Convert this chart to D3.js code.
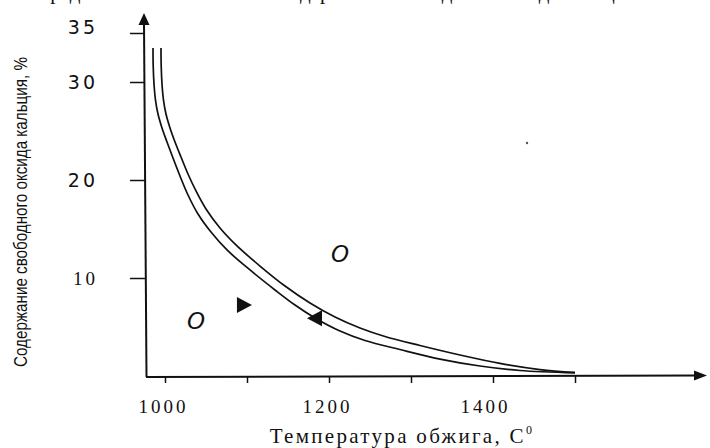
<!DOCTYPE html>
<html><head><meta charset="utf-8">
<script src="https://cdn.jsdelivr.net/npm/d3@7"></script>
<style>
html,body{margin:0;padding:0;background:#fff;}
svg{display:block;}
</style></head>
<body>
<svg id="chart" width="710" height="448"></svg>
<script>
// ---- data ----
const yTicks = [10, 20, 30, 35];
const xTicks = [1000, 1100, 1200, 1300, 1400, 1500];
const xTickLabels = ["1000", "", "1200", "", "1400", ""];
const lowerCurveT   = [985.37, 985.61, 986.59, 988.41, 991.46, 996.34, 1002.44, 1009.76, 1018.29, 1028.05, 1040.24, 1056.10, 1075.61, 1103.66, 1134.15, 1158.54, 1182.93, 1213.41, 1243.90, 1286.59, 1335.37, 1384.15, 1432.93, 1500];
const lowerCurveVal = [33.47, 31.63, 29.80, 28.16, 26.73, 25.31, 23.88, 22.24, 20.41, 18.47, 16.53, 14.69, 12.86, 10.82, 8.78, 7.24, 5.92, 4.59, 3.62, 2.70, 1.73, 1.02, 0.56, 0.31];
const upperCurveT   = [995.12, 995.37, 996.34, 998.17, 1001.22, 1006.10, 1012.20, 1019.51, 1028.05, 1037.80, 1050.00, 1067.07, 1087.80, 1115.85, 1146.34, 1176.83, 1207.32, 1237.80, 1268.29, 1310.98, 1359.76, 1408.54, 1457.32, 1500];
const upperCurveVal = [33.47, 31.63, 29.80, 28.16, 26.73, 25.31, 23.88, 22.35, 20.61, 18.88, 17.04, 15.10, 13.27, 11.22, 9.18, 7.45, 6.02, 4.90, 4.03, 3.11, 2.14, 1.28, 0.66, 0.36];
const circleLabelsT = [1037.8, 1213.4];
const circleLabelsV = [5.7, 12.55];
const triRightT = [1096.3], triRightV = [7.24];
const triLeftT = [1182.9], triLeftV = [5.9];
const xTitle = "Температура обжига, C";
const yTitle = "Содержание свободного оксида кальция, %";
const topText = "Представлена зависимость содержания свободного оксида кальция от температуры обжига";

const svg = d3.select("#chart");
const x = d3.scaleLinear().domain([1000, 1500]).range([165, 575]);
const y = d3.scaleLinear().domain([0, 35]).range([376, 33]);
const ink = "#111";

// clipped text line at the very top (only descenders visible, as in the reference)
svg.append("text").attr("x", 35).attr("y", -1)
  .attr("font-family", "Liberation Serif").attr("font-size", 21)
  .attr("fill", ink).text(topText);

// Y axis
const yAxis = d3.axisLeft(y).tickValues(yTicks).tickSize(15).tickFormat(d => d);
const gy = svg.append("g").attr("transform", "translate(145,0)").call(yAxis);
gy.select(".domain").remove();
gy.selectAll(".tick line").attr("stroke", ink).attr("stroke-width", 1.5);
gy.selectAll(".tick text").attr("x", -47)
  .attr("font-size", 19).attr("letter-spacing", 3).attr("fill", ink)
  .attr("font-family", d => d === 10 ? "Liberation Serif" : "DejaVu Sans")
  .attr("dy", d => d === 35 ? "0.05em" : "0.32em");
svg.append("line").attr("x1", 144).attr("x2", 146.5).attr("y1", 24).attr("y2", 377)
  .attr("stroke", ink).attr("stroke-width", 2);
svg.append("path").attr("d", "M144,13 L138.5,25 L149.5,25 Z").attr("fill", ink);

// X axis
const xAxis = d3.axisBottom(x).tickValues(xTicks).tickSize(7)
  .tickFormat((d, i) => xTickLabels[i]);
const gx = svg.append("g").attr("transform", "translate(0,376)").call(xAxis);
gx.select(".domain").remove();
gx.selectAll(".tick line").attr("stroke", ink).attr("stroke-width", 1.5);
gx.selectAll(".tick text").attr("y", 24).attr("font-family", "Liberation Serif")
  .attr("font-size", 19).attr("letter-spacing", 3).attr("fill", ink)
  .attr("dx", d => d === 1400 ? -8 : -2);
svg.append("line").attr("x1", 146).attr("x2", 696).attr("y1", 377).attr("y2", 375.5)
  .attr("stroke", ink).attr("stroke-width", 2);
svg.append("path").attr("d", "M707,375.5 L694,370.5 L694,380.5 Z").attr("fill", ink);

// titles
const xt = svg.append("text").attr("x", 402).attr("y", 443).attr("text-anchor", "middle")
  .attr("font-family", "Liberation Serif").attr("font-size", 21).attr("letter-spacing", 2.3)
  .attr("fill", ink).text(xTitle);
xt.append("tspan").attr("font-size", 12).attr("dy", -9).text("0");
svg.append("text").attr("transform", "translate(27,212) rotate(-90)")
  .attr("text-anchor", "middle").attr("font-family", "Liberation Sans Narrow, Liberation Sans")
  .attr("font-size", 18).attr("textLength", 310).attr("lengthAdjust", "spacingAndGlyphs")
  .attr("fill", ink).text(yTitle);

// curves (double line)
const lineGen = d3.line().x(d => x(d[0])).y(d => y(d[1])).curve(d3.curveCatmullRom.alpha(0.5));
[[lowerCurveT, lowerCurveVal], [upperCurveT, upperCurveVal]].forEach(([ts, vs]) => {
  const pts = ts.map((t, i) => [t, vs[i]]);
  svg.append("path").attr("d", lineGen(pts)).attr("fill", "none")
    .attr("stroke", ink).attr("stroke-width", 1.7);
});

// "O" markers
circleLabelsT.forEach((t, i) => {
  svg.append("text").attr("x", x(t)).attr("y", y(circleLabelsV[i]) + 9)
    .attr("text-anchor", "middle").attr("font-family", "DejaVu Sans")
    .attr("font-style", "italic").attr("font-weight", 200).attr("font-size", 23)
    .attr("fill", ink).text("O");
});
// triangles
triRightT.forEach((t, i) => {
  const cx = x(t), cy = y(triRightV[i]);
  svg.append("path").attr("d", `M${cx-7},${cy-8} L${cx+8},${cy} L${cx-7},${cy+8} Z`).attr("fill", ink);
});
triLeftT.forEach((t, i) => {
  const cx = x(t), cy = y(triLeftV[i]);
  svg.append("path").attr("d", `M${cx+7},${cy-8} L${cx-8},${cy} L${cx+7},${cy+8} Z`).attr("fill", ink);
});
// speck
svg.append("circle").attr("cx", 527).attr("cy", 143).attr("r", 1.2).attr("fill", "#555");
</script>
</body></html>
